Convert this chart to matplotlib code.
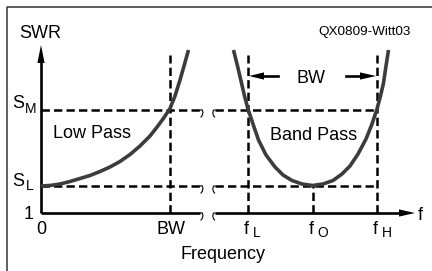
import matplotlib
matplotlib.use("Agg")
import matplotlib.pyplot as plt
from matplotlib.patches import Polygon

plt.rcParams['font.family'] = ['Liberation Sans', 'DejaVu Sans']
plt.rcParams['lines.scale_dashes'] = False

# ---- data (drawing units: x to the right, y downward) ----
lowpass_x = [41, 50, 60, 70, 80, 90, 100, 110, 120, 130, 140, 150, 156.7, 163, 170, 175, 180, 184, 188.5]
lowpass_y = [186, 185.5, 184, 181.5, 178.5, 175.5, 171.5, 167, 161.5, 154.5, 146, 136, 127.5, 119, 108.5, 96, 80, 66, 50]

bandpass_x = [233.5, 237.5, 241.5, 244.5, 248, 253, 258.5, 266, 275, 283, 292, 302, 312.5,
              323, 333, 342, 350, 358, 366, 372, 377, 380.5, 383.5, 386, 388.5]
bandpass_y = [50, 66, 83, 96, 109, 124, 140, 155, 167, 175, 180.5, 184, 185.5,
              184, 180.5, 174, 166, 154, 139, 124, 109, 96, 83, 66, 50]

x_axis_y = 213
y_axis_x = 41
level_SM = 110
level_SL = 186
x_BW = 170
x_fL = 248
x_fO = 312.5
x_fH = 377
break_left = 200
break_right = 215

xtick_labels = ['0', 'BW']
ytick_labels = ['1']

fig = plt.figure(figsize=(4.32, 2.71), dpi=100)
ax = fig.add_axes([0, 0, 1, 1])
ax.set_xlim(0, 432)
ax.set_ylim(271, 0)
ax.axis('off')

# border
ax.plot([7, 7, 440], [280, 7, 7], color='#333333', lw=1.1)

curve_col = '#3c3c3c'
dash = (0, (6, 3.0))
dlw = 1.8
alw = 1.9

# dashed horizontals
for yy in (level_SM, level_SL):
    ax.plot([y_axis_x, break_left], [yy, yy], color='black', lw=dlw, linestyle=dash)
    ax.plot([break_right, x_fH], [yy, yy], color='black', lw=dlw, linestyle=dash)

# dashed verticals
for xx in (x_BW, x_fL, x_fH):
    ax.plot([xx, xx], [x_axis_y, 55], color='black', lw=dlw, linestyle=dash)
ax.plot([x_fO, x_fO], [x_axis_y, level_SL], color='black', lw=dlw, linestyle=dash)

# axes
ax.plot([y_axis_x, y_axis_x], [x_axis_y, 58], color='black', lw=alw, solid_capstyle='butt')
ax.add_patch(Polygon([[y_axis_x, 45], [y_axis_x - 3.6, 63], [y_axis_x + 3.6, 63]], closed=True,
                     color='black', lw=0))
ax.plot([y_axis_x, break_left], [x_axis_y, x_axis_y], color='black', lw=alw, solid_capstyle='butt')
ax.plot([break_right, 402], [x_axis_y, x_axis_y], color='black', lw=alw, solid_capstyle='butt')
ax.add_patch(Polygon([[415, x_axis_y], [399, x_axis_y - 3.6], [399, x_axis_y + 3.6]], closed=True,
                     color='black', lw=0))

# break marks
for yy in (level_SM, level_SL, x_axis_y):
    ax.plot([break_left, 202.2, 203, 202.2, 201], [yy, yy - 0.2, yy + 2.5, yy + 5.5, yy + 7],
            color='black', lw=0.8)
    ax.plot([break_right, 213.4, 212.8, 213.4, 214.6], [yy, yy + 0.2, yy + 3, yy + 5.5, yy + 7],
            color='black', lw=0.8)

# BW arrows
yb = 76
ax.plot([278, 258], [yb, yb], color='black', lw=alw)
ax.add_patch(Polygon([[x_fL + 1, yb], [264, yb - 3.6], [264, yb + 3.6]], closed=True, color='black', lw=0))
ax.plot([346, 366], [yb, yb], color='black', lw=alw)
ax.add_patch(Polygon([[x_fH - 1, yb], [360, yb - 3.6], [360, yb + 3.6]], closed=True, color='black', lw=0))

# curves
ax.plot(lowpass_x, lowpass_y, color=curve_col, lw=2.6, solid_capstyle='butt')
ax.plot(bandpass_x, bandpass_y, color=curve_col, lw=2.6, solid_capstyle='butt')

fs = 13
sub = 10
ax.text(40.5, 38, 'SWR', fontsize=fs, ha='center', va='baseline')
ax.text(411, 35, 'QX0809-Witt03', fontsize=9.7, ha='right', va='baseline')
ax.text(12, 108.5, 'S', fontsize=fs, ha='left', va='baseline')
ax.text(24.5, 113, 'M', fontsize=sub, ha='left', va='baseline')
ax.text(12, 186, 'S', fontsize=fs, ha='left', va='baseline')
ax.text(25.5, 190, 'L', fontsize=sub, ha='left', va='baseline')
ax.text(33.5, 219, ytick_labels[0], fontsize=fs, ha='right', va='baseline')
ax.text(y_axis_x, 234, xtick_labels[0], fontsize=fs, ha='center', va='baseline')
ax.text(x_BW + 1, 234, xtick_labels[1], fontsize=fs, ha='center', va='baseline')
for xf, s in ((x_fL, 'L'), (x_fO, 'O'), (x_fH, 'H')):
    ax.text(xf - 4, 234, 'f', fontsize=fs, ha='left', va='baseline')
    ax.text(xf + 5, 237, s, fontsize=sub, ha='left', va='baseline')
ax.text(418, 220, 'f', fontsize=fs, ha='left', va='baseline')
ax.text(223, 259, 'Frequency', fontsize=fs, ha='center', va='baseline')
ax.text(53, 138.5, 'Low Pass', fontsize=fs, ha='left', va='baseline')
ax.text(314, 140, 'Band Pass', fontsize=fs, ha='center', va='baseline')
ax.text(311.5, 83, 'BW', fontsize=fs, ha='center', va='baseline')

fig.savefig('out.png', dpi=100)
